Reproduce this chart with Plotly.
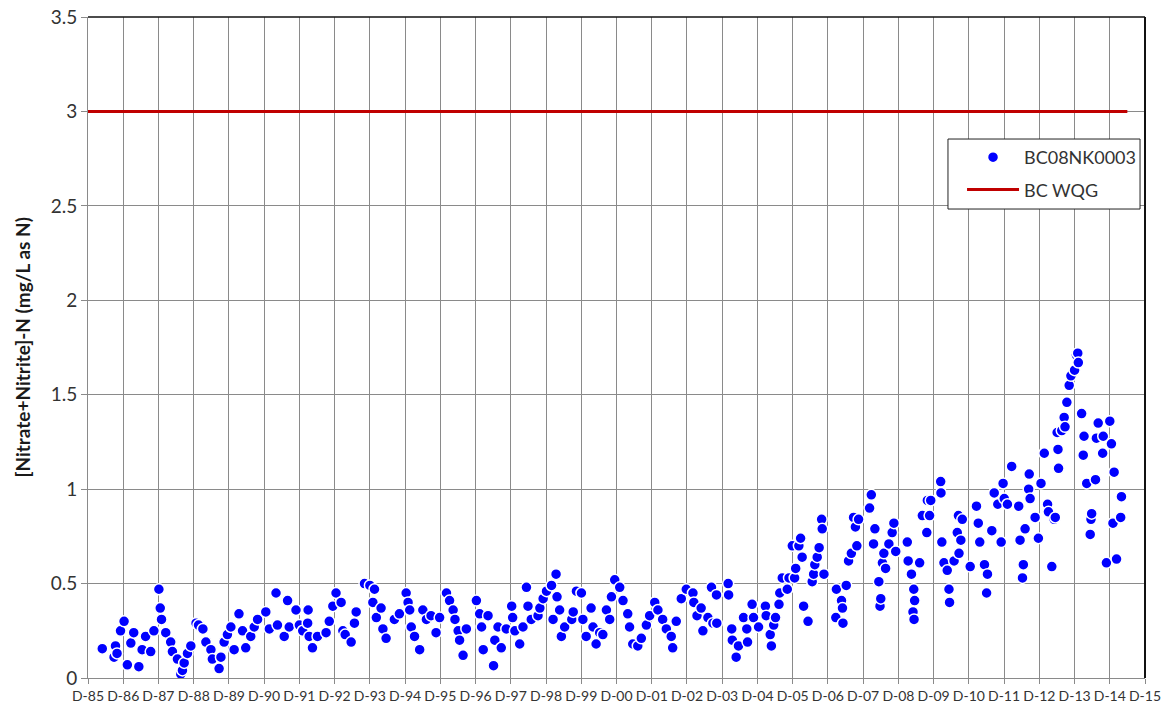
import plotly.graph_objects as go

# Nitrate+Nitrite as N, station BC08NK0003 (sample date, mg/L)
sample_dates = [
    "1986-04-28", "1986-08-28", "1986-09-12", "1986-09-28", "1986-11-03", "1986-12-10",
    "1987-01-13", "1987-02-18", "1987-03-20", "1987-05-12", "1987-06-15", "1987-07-21",
    "1987-09-12", "1987-10-15", "1987-12-06", "1987-12-20", "1988-01-02", "1988-02-15",
    "1988-04-06", "1988-04-24", "1988-06-15", "1988-07-20", "1988-08-06", "1988-08-24",
    "1988-09-27", "1988-11-01", "1988-12-25", "1989-01-20", "1989-03-06", "1989-04-06",
    "1989-05-28", "1989-06-12", "1989-08-21", "1989-09-09", "1989-10-12", "1989-11-15",
    "1989-12-21", "1990-01-24", "1990-03-15", "1990-04-21", "1990-05-24", "1990-07-15",
    "1990-08-20", "1990-09-24", "1990-12-18", "1991-01-24", "1991-04-03", "1991-04-18",
    "1991-06-27", "1991-08-01", "1991-08-18", "1991-10-27",
    "1991-12-01", "1992-01-05", "1992-02-25", "1992-03-01", "1992-03-12", "1992-04-15",
    "1992-06-06", "1992-09-03", "1992-10-06", "1992-11-12", "1992-12-15", "1993-02-06",
    "1993-02-24", "1993-03-20", "1993-05-21", "1993-06-24", "1993-07-12", "1993-10-06",
    "1993-12-01", "1994-01-01", "1994-01-18", "1994-02-06", "1994-03-27", "1994-04-15",
    "1994-05-18", "1994-08-12", "1994-10-03", "1994-12-12", "1995-01-01", "1995-01-18",
    "1995-02-03", "1995-03-09", "1995-05-01", "1995-06-03", "1995-07-10", "1995-08-27",
    "1995-10-18", "1995-11-24", "1996-02-03", "1996-03-06", "1996-04-12", "1996-05-01",
    "1996-06-03", "1996-06-18", "1996-07-24", "1996-08-27", "1996-12-09", "1997-01-12",
    "1997-02-01", "1997-02-18", "1997-04-09", "1997-06-05", "1997-06-18", "1997-07-21",
    "1997-08-24", "1997-10-15",
    "1997-12-10", "1997-12-20", "1998-01-12", "1998-03-03", "1998-04-06", "1998-05-12",
    "1998-05-28", "1998-07-01", "1998-09-09", "1998-09-28", "1998-11-01", "1998-12-06",
    "1999-01-27", "1999-02-12", "1999-03-15", "1999-03-25", "1999-04-21", "1999-05-09",
    "1999-06-12", "1999-08-25", "1999-09-09", "1999-10-12", "1999-12-03", "1999-12-18",
    "2000-01-21", "2000-03-12", "2000-04-01", "2000-05-03", "2000-06-09", "2000-07-12",
    "2000-08-18", "2000-09-21", "2000-10-09", "2000-11-12", "2001-01-03", "2001-02-06",
    "2001-03-27", "2001-04-15", "2001-05-18", "2001-07-09", "2001-08-15", "2001-10-06",
    "2001-11-09", "2002-01-01", "2002-02-03", "2002-03-24", "2002-05-01", "2002-06-21",
    "2002-07-06", "2002-08-12", "2002-10-03", "2002-11-24", "2003-02-01", "2003-02-10",
    "2003-03-15", "2003-04-27", "2003-05-15", "2003-07-06", "2003-08-12", "2003-08-27",
    "2003-10-03",
    "2003-10-06", "2004-02-01", "2004-02-06", "2004-03-09", "2004-03-15", "2004-04-24",
    "2004-05-18", "2004-07-09", "2004-08-12", "2004-08-20", "2004-10-06", "2004-10-21",
    "2004-12-12", "2005-02-21", "2005-03-01", "2005-04-12", "2005-04-24", "2005-05-18",
    "2005-06-06", "2005-07-12", "2005-07-20", "2005-08-15", "2005-10-06", "2005-10-24",
    "2005-11-27", "2005-12-21", "2006-01-01", "2006-02-03", "2006-02-21", "2006-03-09",
    "2006-03-24", "2006-05-09", "2006-06-21", "2006-07-06", "2006-07-18", "2006-08-12",
    "2006-09-01", "2006-09-27", "2006-10-03", "2006-10-21", "2007-02-21", "2007-02-27",
    "2007-04-21", "2007-05-01", "2007-05-06", "2007-06-09", "2007-07-03", "2007-08-01",
    "2007-08-24", "2007-09-12", "2007-09-27", "2007-10-15", "2008-02-06", "2008-02-24",
    "2008-03-18", "2008-04-01", "2008-05-12", "2008-05-24", "2008-06-01", "2008-06-18",
    "2008-07-03", "2008-07-21", "2008-08-24", "2008-09-27", "2008-10-15", "2008-11-03",
    "2009-03-03", "2009-03-12", "2009-04-15", "2009-05-01", "2009-05-09", "2009-05-12",
    "2009-05-18", "2009-07-09", "2009-08-06", "2009-09-21", "2009-09-27",
    "2009-10-20", "2009-11-01", "2010-02-12", "2010-02-15", "2010-02-24", "2010-03-18",
    "2010-04-21", "2010-05-09", "2010-05-15", "2010-07-01", "2010-08-03", "2010-08-15",
    "2010-08-21", "2010-09-09", "2010-09-24", "2010-12-15", "2011-02-18", "2011-03-09",
    "2011-03-24", "2011-05-12", "2011-06-03", "2011-06-12", "2011-07-27", "2011-08-21",
    "2011-09-27", "2011-11-01", "2011-11-21", "2011-12-03", "2012-01-05", "2012-02-18",
    "2012-05-01", "2012-05-15", "2012-06-09", "2012-06-18", "2012-07-06", "2012-08-12",
    "2012-08-18", "2012-08-27", "2012-10-18", "2012-11-21", "2012-12-18", "2013-01-21",
    "2013-02-24", "2013-03-05", "2013-04-09", "2013-05-03", "2013-05-15", "2013-06-03",
    "2013-06-12", "2013-06-18", "2013-07-21", "2013-08-15", "2013-08-24", "2013-09-12",
    "2013-10-06", "2013-10-24", "2013-12-01", "2013-12-20", "2014-01-03", "2014-01-09",
    "2014-02-12", "2014-03-01", "2014-03-09", "2014-04-06", "2014-05-12", "2014-05-20",
    "2014-05-27", "2014-07-06", "2014-07-15", "2014-08-03", "2014-09-18", "2014-09-24",
    "2014-10-27", "2014-12-01", "2014-12-18", "2015-01-03", "2015-01-15", "2015-02-09",
    "2015-03-24", "2015-04-01",
]
no3_no2 = [
    0.155, 0.11, 0.17, 0.13, 0.25, 0.30,
    0.07, 0.185, 0.24, 0.06, 0.15, 0.22,
    0.14, 0.25, 0.47, 0.37, 0.31, 0.24,
    0.19, 0.14, 0.10, 0.02, 0.04, 0.08,
    0.13, 0.17, 0.29, 0.28, 0.26, 0.19,
    0.15, 0.10, 0.05, 0.11, 0.19, 0.23,
    0.27, 0.15, 0.34, 0.25, 0.16, 0.22,
    0.27, 0.31, 0.35, 0.26, 0.45, 0.28,
    0.22, 0.41, 0.27, 0.36,
    0.28, 0.25, 0.29, 0.36, 0.22, 0.16,
    0.22, 0.24, 0.30, 0.38, 0.45, 0.40,
    0.25, 0.23, 0.19, 0.29, 0.35, 0.50,
    0.49, 0.40, 0.47, 0.32, 0.37, 0.26,
    0.21, 0.31, 0.34, 0.45, 0.40, 0.36,
    0.27, 0.22, 0.15, 0.36, 0.31, 0.33,
    0.24, 0.32, 0.45, 0.41, 0.36, 0.31,
    0.25, 0.20, 0.12, 0.26, 0.41, 0.34,
    0.27, 0.15, 0.33, 0.065, 0.20, 0.27,
    0.16, 0.26,
    0.38, 0.32, 0.25, 0.18, 0.27, 0.48,
    0.38, 0.31, 0.33, 0.37, 0.42, 0.46,
    0.49, 0.31, 0.55, 0.43, 0.36, 0.22,
    0.27, 0.31, 0.35, 0.46, 0.45, 0.31,
    0.22, 0.37, 0.27, 0.18, 0.24, 0.23,
    0.36, 0.31, 0.43, 0.52, 0.48, 0.41,
    0.34, 0.27, 0.18, 0.17, 0.21, 0.28,
    0.33, 0.40, 0.36, 0.31, 0.26, 0.22,
    0.16, 0.30, 0.42, 0.47, 0.45, 0.40,
    0.33, 0.37, 0.25, 0.32, 0.48, 0.29,
    0.44,
    0.29, 0.50, 0.44, 0.26, 0.20, 0.11,
    0.17, 0.32, 0.26, 0.19, 0.39, 0.32,
    0.27, 0.38, 0.33, 0.23, 0.17, 0.28,
    0.32, 0.39, 0.45, 0.53, 0.47, 0.53,
    0.70, 0.53, 0.58, 0.70, 0.74, 0.64,
    0.38, 0.30, 0.51, 0.55, 0.60, 0.64,
    0.69, 0.84, 0.79, 0.55, 0.32, 0.47,
    0.41, 0.37, 0.29, 0.49, 0.62, 0.66,
    0.85, 0.80, 0.70, 0.84, 0.90, 0.97,
    0.71, 0.79, 0.51, 0.38, 0.42, 0.61,
    0.66, 0.58, 0.71, 0.77, 0.82, 0.67,
    0.72, 0.62, 0.55, 0.35, 0.47, 0.31,
    0.41, 0.61, 0.86, 0.77, 0.94,
    0.86, 0.94, 1.04, 0.98, 0.72, 0.61,
    0.57, 0.47, 0.40, 0.62, 0.77, 0.86,
    0.66, 0.73, 0.84, 0.59, 0.91, 0.82,
    0.72, 0.60, 0.45, 0.55, 0.78, 0.98,
    0.92, 0.72, 1.03, 0.95, 0.92, 1.12,
    0.91, 0.73, 0.53, 0.60, 0.79, 1.00,
    1.08, 0.95, 0.85, 0.74, 1.03, 1.19,
    0.92, 0.88, 0.59, 0.84, 0.85, 1.30,
    1.21, 1.11, 1.31, 1.38, 1.33, 1.46,
    1.55, 1.60, 1.63, 1.71, 1.72, 1.67,
    1.40, 1.18, 1.28, 1.03, 0.76, 0.84,
    0.87, 1.05, 1.27, 1.35, 1.19, 1.28,
    0.61, 1.36, 1.24, 0.82, 1.09, 0.63,
    0.85, 0.96,
]

# BC water quality guideline
wqg_dates = ["1985-12-01", "2015-06-01"]
wqg_values = [3, 3]

# December ticks, one per year
tick_years = list(range(1985, 2016))
tick_dates = [f"{y}-12-01" for y in tick_years]
tick_text = [f"D-{y % 100:02d}" for y in tick_years]

FONT = "Lato"
GRID = "#8a8a8a"
INK = "#333333"

fig = go.Figure()
fig.add_trace(go.Scatter(
    x=sample_dates, y=no3_no2, mode="markers", name="BC08NK0003",
    legendgroup="a", cliponaxis=False,
    marker=dict(color="#0000FF", size=11, line=dict(color="white", width=1.5)),
))
fig.add_trace(go.Scatter(
    x=wqg_dates, y=wqg_values, mode="lines", name="BC WQG",
    legendgroup="b", line=dict(color="#C00000", width=3),
))

fig.update_layout(
    width=1164, height=708,
    margin=dict(l=88, r=19, t=17, b=30),
    paper_bgcolor="white", plot_bgcolor="white",
    font=dict(family=FONT, color=INK),
    showlegend=True,
    legend=dict(
        x=0.8269, y=0.8154, xanchor="left", yanchor="top",
        bgcolor="rgba(0,0,0,0)", borderwidth=0,
        font=dict(family=FONT, size=18, color=INK),
        tracegroupgap=6, itemwidth=52,
    ),
    xaxis=dict(
        type="date", range=["1985-12-01", "2015-12-01"], automargin=False,
        tickmode="array", tickvals=tick_dates, ticktext=tick_text,
        showgrid=True, gridcolor=GRID, gridwidth=1,
        ticks="outside", ticklen=5, tickcolor=GRID,
        showline=True, linecolor=GRID, linewidth=1, zeroline=False,
        tickfont=dict(family=FONT, size=14, color=INK),
    ),
    yaxis=dict(
        range=[0, 3.5], dtick=0.5, tick0=0, automargin=False,
        showgrid=True, gridcolor=GRID, gridwidth=1,
        ticks="outside", ticklen=6, tickcolor=GRID,
        showline=True, linecolor=GRID, linewidth=1, zeroline=False,
        tickfont=dict(family=FONT, size=19, color=INK),
    ),
    annotations=[
        # y-axis title
        dict(text="<b>[Nitrate+Nitrite]-N (mg/L as N)</b>", textangle=-90,
             xref="paper", yref="paper", x=-0.0624, y=0.5,
             xanchor="center", yanchor="middle", showarrow=False,
             font=dict(family=FONT, size=19, color="#1a1a1a")),
    ],
    shapes=[
        # plot frame: dark top and right edges
        dict(type="line", xref="paper", yref="paper", x0=0, x1=1, y0=1, y1=1,
             line=dict(color="#111111", width=1.5)),
        dict(type="line", xref="paper", yref="paper", x0=1, x1=1, y0=0, y1=1,
             line=dict(color="#111111", width=2)),
        # legend box
        dict(type="rect", xref="paper", yref="paper", layer="above",
             x0=0.8136, x1=0.9953, y0=0.7095, y1=0.8154,
             fillcolor="white", line=dict(color="#222222", width=1)),
    ],
)

fig.write_html("out.html")
